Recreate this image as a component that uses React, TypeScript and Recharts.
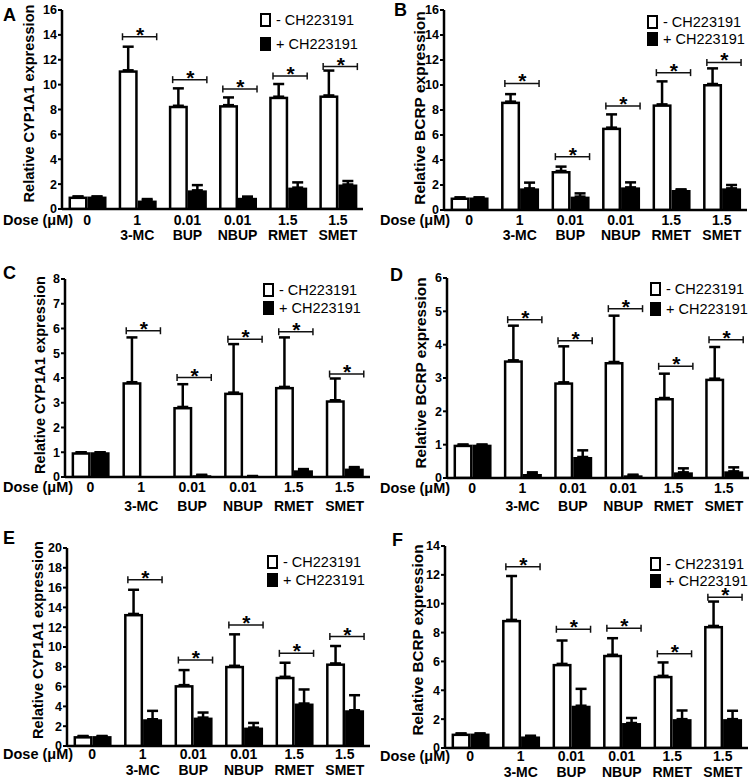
/**
 * AhR inhibitor panels - CYP1A1 / BCRP expression with and without CH223191
 */
import React from 'react';
import { BarChart, Bar, XAxis, YAxis, ErrorBar, Legend } from 'recharts';

const FONT = '"Liberation Sans", Arial, sans-serif';

const DOSES = ['0', '1', '0.01', '0.01', '1.5', '1.5'];
const DRUGS = ['', '3-MC', 'BUP', 'NBUP', 'RMET', 'SMET'];
const SERIES_NAMES = ['- CH223191', '+ CH223191'];

// A - CYP1A1
const A_MINUS = [1.0, 11.15, 8.3, 8.35, 9.03, 9.13];
const A_MINUS_SD = [0, 1.9, 1.4, 0.62, 1.02, 2.0];
const A_PLUS = [1.0, 0.68, 1.5, 0.9, 1.72, 1.97];
const A_PLUS_SD = [0, 0.12, 0.42, 0.1, 0.42, 0.28];
const A_SIG = [null, 13.85, 10.4, 9.65, 10.7, 11.45];

// B - BCRP
const B_MINUS = [1.0, 8.67, 3.12, 6.59, 8.45, 10.08];
const B_MINUS_SD = [0, 0.6, 0.35, 1.06, 1.84, 1.25];
const B_PLUS = [1.0, 1.73, 1.07, 1.81, 1.6, 1.73];
const B_PLUS_SD = [0, 0.46, 0.26, 0.4, 0.05, 0.27];
const B_SIG = [null, 10.13, 4.27, 8.32, 10.99, 11.81];

// C - CYP1A1
const C_MINUS = [1.0, 3.83, 2.83, 3.41, 3.64, 3.1];
const C_MINUS_SD = [0, 1.81, 0.92, 1.96, 2.0, 0.88];
const C_PLUS = [1.0, 0, 0.07, 0.03, 0.27, 0.34];
const C_PLUS_SD = [0, 0, 0.02, 0.01, 0.05, 0.06];
const C_SIG = [null, 5.91, 4.02, 5.57, 5.87, 4.16];

// D - BCRP
const D_MINUS = [1.0, 3.53, 2.87, 3.48, 2.4, 2.98];
const D_MINUS_SD = [0, 1.04, 1.08, 1.39, 0.73, 0.95];
const D_PLUS = [1.0, 0.12, 0.63, 0.08, 0.17, 0.2];
const D_PLUS_SD = [0, 0.05, 0.2, 0.02, 0.12, 0.12];
const D_SIG = [null, 4.75, 4.12, 5.08, 3.35, 4.15];

// E - CYP1A1
const E_MINUS = [1.0, 13.34, 6.15, 8.1, 6.99, 8.34];
const E_MINUS_SD = [0, 2.44, 1.52, 3.18, 1.42, 1.76];
const E_PLUS = [1.0, 2.7, 2.87, 1.86, 4.29, 3.61];
const E_PLUS_SD = [0, 0.85, 0.51, 0.47, 1.42, 1.52];
const E_SIG = [null, 16.79, 8.68, 12.23, 9.36, 11.05];

// F - BCRP
const F_MINUS = [1.0, 8.88, 5.83, 6.46, 5.0, 8.46];
const F_MINUS_SD = [0, 3.04, 1.62, 1.15, 0.93, 1.69];
const F_PLUS = [1.0, 0.8, 2.93, 1.73, 2.0, 2.0];
const F_PLUS_SD = [0, 0.05, 1.17, 0.35, 0.6, 0.58];
const F_SIG = [null, 12.57, 8.23, 8.3, 6.53, 10.45];

const TICKS_16 = [0, 2, 4, 6, 8, 10, 12, 14, 16];
const TICKS_8 = [0, 1, 2, 3, 4, 5, 6, 7, 8];
const TICKS_6 = [0, 1, 2, 3, 4, 5, 6];
const TICKS_20 = [0, 2, 4, 6, 8, 10, 12, 14, 16, 18, 20];
const TICKS_14 = [0, 2, 4, 6, 8, 10, 12, 14];

const CYP = 'Relative CYP1A1 expression';
const BCRP = 'Relative BCRP expression';

const W = 378;
const H = 260;
const Y_W = 30;
const X_H = 10;
const AX = { stroke: '#000', strokeWidth: 2.5 };

const PANELS = [
  { id: 'A', ox: 0, oy: 0, minus: A_MINUS, minusSd: A_MINUS_SD, plus: A_PLUS, plusSd: A_PLUS_SD, sig: A_SIG, ticks: TICKS_16, title: CYP,
    plot: { l: 62, r: 363, t: 10, b: 209 }, letter: { x: 3, y: 22 }, tGap: 33, tDy: -6, tSize: 14.6, lines: [16, 31], key: { x: 260, y: 20, gap: 23.5 } },
  { id: 'B', ox: 377, oy: 0, minus: B_MINUS, minusSd: B_MINUS_SD, plus: B_PLUS, plusSd: B_PLUS_SD, sig: B_SIG, ticks: TICKS_16, title: BCRP,
    plot: { l: 67, r: 370, t: 10, b: 210 }, letter: { x: 17, y: 17 }, tGap: 25, tDy: -2, tSize: 15.5, lines: [15, 30], key: { x: 270, y: 21.5, gap: 17 } },
  { id: 'C', ox: 0, oy: 260, minus: C_MINUS, minusSd: C_MINUS_SD, plus: C_PLUS, plusSd: C_PLUS_SD, sig: C_SIG, ticks: TICKS_8, title: CYP,
    plot: { l: 65, r: 370, t: 19, b: 217 }, letter: { x: 3, y: 20 }, tGap: 25, tDy: -3, tSize: 14.6, lines: [15, 34], key: { x: 263, y: 29.5, gap: 18 } },
  { id: 'D', ox: 377, oy: 260, minus: D_MINUS, minusSd: D_MINUS_SD, plus: D_PLUS, plusSd: D_PLUS_SD, sig: D_SIG, ticks: TICKS_6, title: BCRP,
    plot: { l: 70, r: 372, t: 18, b: 218 }, letter: { x: 13, y: 22 }, tGap: 27, tDy: -5, tSize: 15.3, lines: [15, 33], key: { x: 273, y: 28.5, gap: 20 } },
  { id: 'E', ox: 0, oy: 520, minus: E_MINUS, minusSd: E_MINUS_SD, plus: E_PLUS, plusSd: E_PLUS_SD, sig: E_SIG, ticks: TICKS_20, title: CYP,
    plot: { l: 67, r: 370, t: 28, b: 226 }, letter: { x: 3, y: 25 }, tGap: 29, tDy: -7, tSize: 14.6, lines: [13, 29], key: { x: 267, y: 41.5, gap: 18.5 } },
  { id: 'F', ox: 377, oy: 520, minus: F_MINUS, minusSd: F_MINUS_SD, plus: F_PLUS, plusSd: F_PLUS_SD, sig: F_SIG, ticks: TICKS_14, title: BCRP,
    plot: { l: 68, r: 371, t: 26, b: 228 }, letter: { x: 15, y: 27 }, tGap: 28, tDy: -7, tSize: 15.3, lines: [13, 29], key: { x: 273, y: 43.5, gap: 17 } },
];

// white bar + significance bracket above the pair
function OpenBar(props: any) {
  const { x, y, width, height, payload } = props;
  if (x == null || y == null || !height) return null;
  const sw = 2.5;
  const unit = payload.w > 0 ? height / payload.w : 0;
  const base = y + height;
  let mark = null;
  if (payload.sig != null && unit > 0) {
    const by = base - payload.sig * unit;
    const x1 = x + width * 0.2;
    const x2 = x + width * 2;
    mark = (
      <g stroke="#111" strokeWidth={1.5}>
        <line x1={x1} y1={by} x2={x2} y2={by} />
        <line x1={x1} y1={by - 3.5} x2={x1} y2={by + 3.5} />
        <line x1={x2} y1={by - 3.5} x2={x2} y2={by + 3.5} />
        <text x={(x1 + x2) / 2 + 0.5} y={by + 5} textAnchor="middle" fontSize={21} fontWeight="bold"
          fontFamily={FONT} stroke="none" fill="#000">*</text>
      </g>
    );
  }
  return (
    <g>
      <rect x={x + sw / 2} y={y + sw / 2} width={Math.max(width - sw, 0)} height={Math.max(height - sw / 2, 0)}
        fill="#fff" stroke="#000" strokeWidth={sw} />
      {mark}
    </g>
  );
}

function DoseTick(props: any) {
  const { x, y, payload, lines } = props;
  const [dose, drug] = String(payload.value).split('|');
  const style = { fontFamily: FONT, fontSize: 14, fontWeight: 'bold' as const };
  return (
    <g>
      {dose === '0' && (
        <text x={3} y={y + lines[0]} fill="#000" {...style} fontSize={14.5}>Dose (μM)</text>
      )}
      <text x={x} y={y + lines[0]} textAnchor="middle" fill="#000" {...style}>{dose}</text>
      {drug && <text x={x} y={y + lines[1]} textAnchor="middle" fill="#000" {...style}>{drug}</text>}
    </g>
  );
}

function YTitle(props: any) {
  const { viewBox, text, gap, dy, size } = props;
  if (!viewBox) return null;
  const cx = viewBox.x + viewBox.width - gap;
  const cy = viewBox.y + viewBox.height / 2 + dy;
  return (
    <text x={cx} y={cy} transform={`rotate(-90 ${cx} ${cy})`} textAnchor="middle" dominantBaseline="central"
      fontFamily={FONT} fontSize={size} fontWeight="bold" fill="#000">{text}</text>
  );
}

function KeyBox({ gap }: { gap: number }) {
  return (
    <div style={{ fontFamily: FONT, fontSize: 14.5, color: '#000' }}>
      {SERIES_NAMES.map((name, i) => (
        <div key={name} style={{ display: 'flex', alignItems: 'center', height: gap, whiteSpace: 'nowrap' }}>
          <span style={{ display: 'inline-block', boxSizing: 'border-box', width: 11, height: 14,
            border: '2.5px solid #000', background: i === 0 ? '#fff' : '#000' }} />
          <span style={{ marginLeft: 5 }}>{name}</span>
        </div>
      ))}
    </div>
  );
}

function Panel({ cfg }: { cfg: any }) {
  const rows = DOSES.map((d, i) => ({
    cat: `${d}|${DRUGS[i]}`,
    w: cfg.minus[i],
    we: [0, cfg.minusSd[i]],
    b: cfg.plus[i],
    be: [0, cfg.plusSd[i]],
    sig: cfg.sig[i],
  }));
  const max = cfg.ticks[cfg.ticks.length - 1];
  const p = cfg.plot;
  const margin = { top: p.t, right: W - p.r, bottom: H - p.b - X_H, left: p.l - Y_W };
  return (
    <div style={{ position: 'absolute', left: cfg.ox, top: cfg.oy, width: W, height: H }}>
      <BarChart width={W} height={H} data={rows} margin={margin} barCategoryGap="13%" barGap={0}>
        <XAxis dataKey="cat" interval={0} height={X_H} tickLine={false} tickSize={0} tickMargin={0}
          axisLine={AX} tick={(t: any) => <DoseTick {...t} lines={cfg.lines} />} />
        <XAxis xAxisId="frame" orientation="top" dataKey="cat" height={0} tick={false} tickLine={false} axisLine={AX} />
        <YAxis domain={[0, max]} ticks={cfg.ticks} interval={0} width={Y_W} tickSize={4} tickMargin={1}
          axisLine={AX} tickLine={{ stroke: '#000', strokeWidth: 2 }} allowDataOverflow
          tick={{ fill: '#000', fontSize: 12.5, fontWeight: 'bold', fontFamily: FONT }}
          label={(l: any) => <YTitle viewBox={l.viewBox} text={cfg.title} gap={cfg.tGap} dy={cfg.tDy} size={cfg.tSize} />} />
        <YAxis yAxisId="frame" orientation="right" domain={[0, max]} width={0} tick={false} tickLine={false} axisLine={AX} />
        <Legend layout="vertical" align="center" verticalAlign="middle"
          wrapperStyle={{ left: cfg.key.x, top: cfg.key.y - cfg.key.gap / 2, width: 'auto', height: 'auto' }}
          content={() => <KeyBox gap={cfg.key.gap} />} />
        <Bar dataKey="w" name={SERIES_NAMES[0]} fill="#fff" stroke="#000" isAnimationActive={false}
          shape={(s: any) => <OpenBar {...s} />}>
          <ErrorBar dataKey="we" direction="y" width={5.5} stroke="#000" strokeWidth={2.5} />
        </Bar>
        <Bar dataKey="b" name={SERIES_NAMES[1]} fill="#000" isAnimationActive={false}>
          <ErrorBar dataKey="be" direction="y" width={5.5} stroke="#000" strokeWidth={2.5} />
        </Bar>
      </BarChart>
      <div style={{ position: 'absolute', left: cfg.letter.x, top: cfg.letter.y - 16.5, fontFamily: FONT,
        fontSize: 18, fontWeight: 'bold', lineHeight: 1 }}>{cfg.id}</div>
    </div>
  );
}

export default function App() {
  return (
    <div style={{ position: 'absolute', left: 0, top: 0, width: 755, height: 780, background: '#fff', overflow: 'hidden' }}>
      {PANELS.map((cfg) => <Panel key={cfg.id} cfg={cfg} />)}
    </div>
  );
}
